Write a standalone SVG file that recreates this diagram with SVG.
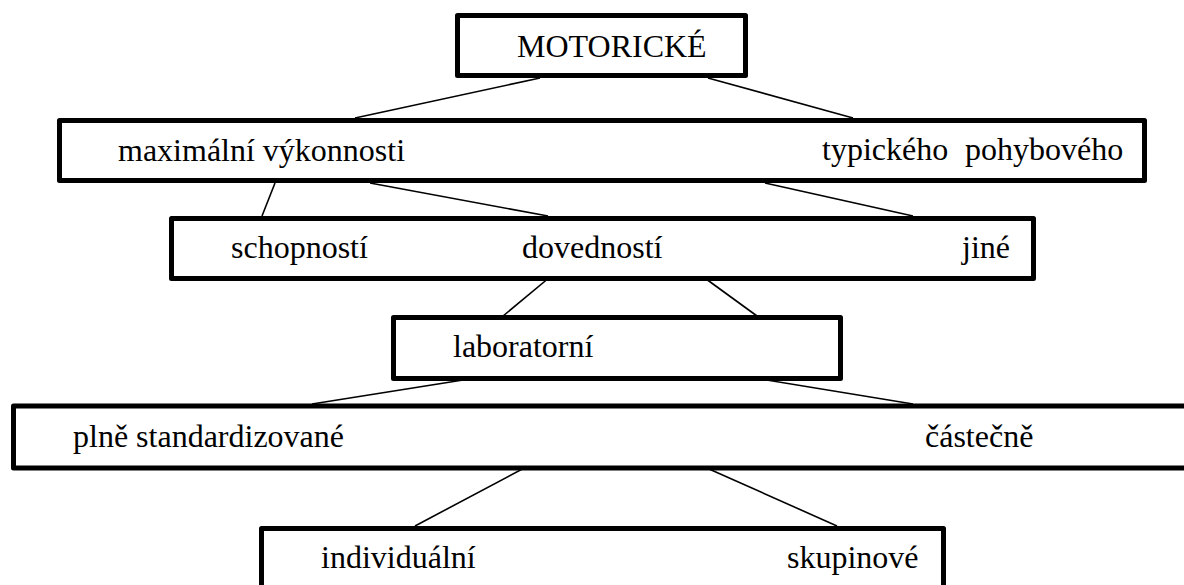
<svg xmlns="http://www.w3.org/2000/svg" width="1184" height="585" viewBox="0 0 1184 585">
<style>
.box{fill:#fff;stroke:#000;stroke-width:5;stroke-linejoin:round}
.lbl{font-family:"Liberation Serif","Times New Roman",serif;font-size:32px;fill:#000}
.con line{stroke:#000;stroke-width:1.6}
</style>
<rect width="1184" height="585" fill="#fff"/>
<g id="connectors" class="con">
<line x1="540" y1="78" x2="355" y2="118"/>
<line x1="708" y1="78" x2="853" y2="118"/>
<line x1="275" y1="183" x2="262" y2="216"/>
<line x1="370" y1="183" x2="548" y2="216"/>
<line x1="765" y1="183" x2="913" y2="216"/>
<line x1="550" y1="277" x2="503" y2="316"/>
<line x1="702" y1="276" x2="757" y2="316"/>
<line x1="482" y1="377" x2="312" y2="404"/>
<line x1="748" y1="377" x2="913" y2="404"/>
<line x1="528" y1="466" x2="415" y2="526"/>
<line x1="700" y1="465" x2="837" y2="526"/>
</g>
<g id="n-motoricke">
<rect class="box" x="457.5" y="15.5" width="288" height="60"/>
<text class="lbl" x="517" y="57">MOTORICKÉ</text>
</g>
<g id="n-vykonnost">
<rect class="box" x="59.5" y="120.5" width="1085" height="60"/>
<text class="lbl" x="118" y="161">maximální výkonnosti</text>
<text class="lbl" y="160"><tspan x="822">typického</tspan><tspan x="965">pohybového</tspan></text>
</g>
<g id="n-schopnosti">
<rect class="box" x="171.5" y="218.5" width="862" height="60"/>
<text class="lbl" x="231" y="258">schopností</text>
<text class="lbl" x="522" y="258">dovedností</text>
<text class="lbl" x="962" y="258">jiné</text>
</g>
<g id="n-laboratorni">
<rect class="box" x="393.5" y="317.5" width="447" height="61"/>
<text class="lbl" x="453" y="357">laboratorní</text>
</g>
<g id="n-standard">
<rect class="box" x="13.5" y="406" width="1200" height="62"/>
<text class="lbl" x="73" y="447">plně standardizované</text>
<text class="lbl" x="925" y="447">částečně</text>
</g>
<g id="n-individualni">
<rect class="box" x="261.5" y="528.5" width="682" height="80"/>
<text class="lbl" x="321" y="568">individuální</text>
<text class="lbl" x="787" y="568">skupinové</text>
</g>
</svg>
